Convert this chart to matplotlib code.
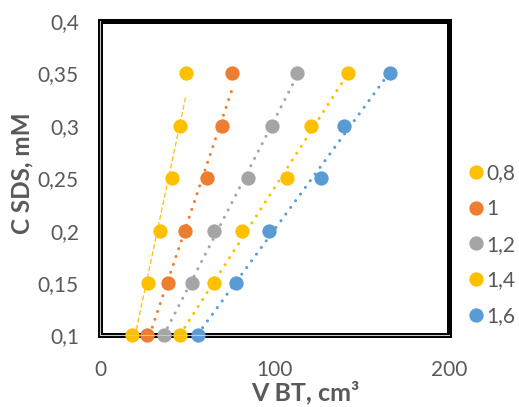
import numpy as np
import matplotlib
matplotlib.use('Agg')
import matplotlib.pyplot as plt
from matplotlib.lines import Line2D

plt.rcParams['font.family'] = ['Lato', 'DejaVu Sans']

# ========== 数据 ==========
c_sds = [0.1, 0.15, 0.2, 0.25, 0.3, 0.35]
series_names = ['0,8', '1', '1,2', '1,4', '1,6']
v_08 = [17.9, 27.4, 34.0, 40.9, 45.8, 48.9]
v_10 = [26.7, 38.9, 48.3, 61.1, 69.6, 75.6]
v_12 = [36.3, 52.3, 65.0, 84.5, 98.2, 112.9]
v_14 = [45.8, 65.3, 81.2, 107.2, 120.6, 142.2]
v_16 = [55.8, 77.6, 96.9, 126.5, 139.6, 166.1]
colors = ['#FFC000', '#ED7D31', '#A5A5A5', '#FFC000', '#5B9BD5']

x_ticks = [0, 100, 200]
x_ticklabels = ['0', '100', '200']
y_ticks = [0.1, 0.15, 0.2, 0.25, 0.3, 0.35, 0.4]
y_ticklabels = ['0,1', '0,15', '0,2', '0,25', '0,3', '0,35', '0,4']

TEXT = '#595959'

fig = plt.figure(figsize=(5.19, 4.07), dpi=100)
ax = fig.add_axes([0.1936, 0.1757, 0.8651 - 0.1936, 0.9484 - 0.1757])

all_v = [v_08, v_10, v_12, v_14, v_16]
for i, (v, col) in enumerate(zip(all_v, colors)):
    x = np.array(v)
    y = np.array(c_sds)
    # линейный тренд
    k, b = np.polyfit(x, y, 1)
    xs = np.array([x.min(), x.max()])
    if i == 0:
        ax.plot(xs, k * xs + b, color=col, lw=0.9, linestyle=(0, (4, 2)), zorder=2)
    else:
        ax.plot(xs, k * xs + b, color=col, lw=2.2, linestyle=(0, (0.01, 2.7)),
                dash_capstyle='round', zorder=2)
    ax.plot(x, y, 'o', color=col, markersize=10.3, markeredgewidth=0,
            clip_on=False, zorder=3)

ax.set_xlim(0, 200)
ax.set_ylim(0.1, 0.4)
ax.set_xticks(x_ticks)
ax.set_xticklabels(x_ticklabels)
ax.set_yticks(y_ticks)
ax.set_yticklabels(y_ticklabels)
ax.tick_params(axis='both', length=0, labelsize=15, labelcolor=TEXT)
ax.tick_params(axis='y', pad=15.5)
ax.tick_params(axis='x', pad=18)

for s in ax.spines.values():
    s.set_linewidth(3.6)
    s.set_color('black')
    s.set_capstyle('projecting')
# двойная линия слева и снизу
ax.plot([0, 0], [0, 1], transform=ax.transAxes, color='#c8c8c8', lw=0.8,
        clip_on=False, zorder=5)
ax.plot([0, 1], [0, 0], transform=ax.transAxes, color='#c8c8c8', lw=0.8,
        clip_on=False, zorder=5)

ax.set_ylabel('C SDS, mM', fontsize=17.5, fontweight='bold', color=TEXT, va='center')
ax.yaxis.set_label_coords(-0.225, 0.517)
ax.set_xlabel('V BT, cm³', fontsize=18, fontweight='bold', color=TEXT, va='baseline')
ax.xaxis.set_label_coords(0.587, -0.205)

handles = [Line2D([], [], marker='o', linestyle='none', color=c, markersize=10.3,
                  markeredgewidth=0) for c in colors]
leg = fig.legend(handles, series_names, loc='center left',
                 bbox_to_anchor=(0.905, 0.399), frameon=False, fontsize=15,
                 handlelength=0.6, handletextpad=0.2, labelspacing=0.75,
                 borderpad=0, borderaxespad=0)
for t in leg.get_texts():
    t.set_color(TEXT)

fig.savefig('out.png', dpi=100)
